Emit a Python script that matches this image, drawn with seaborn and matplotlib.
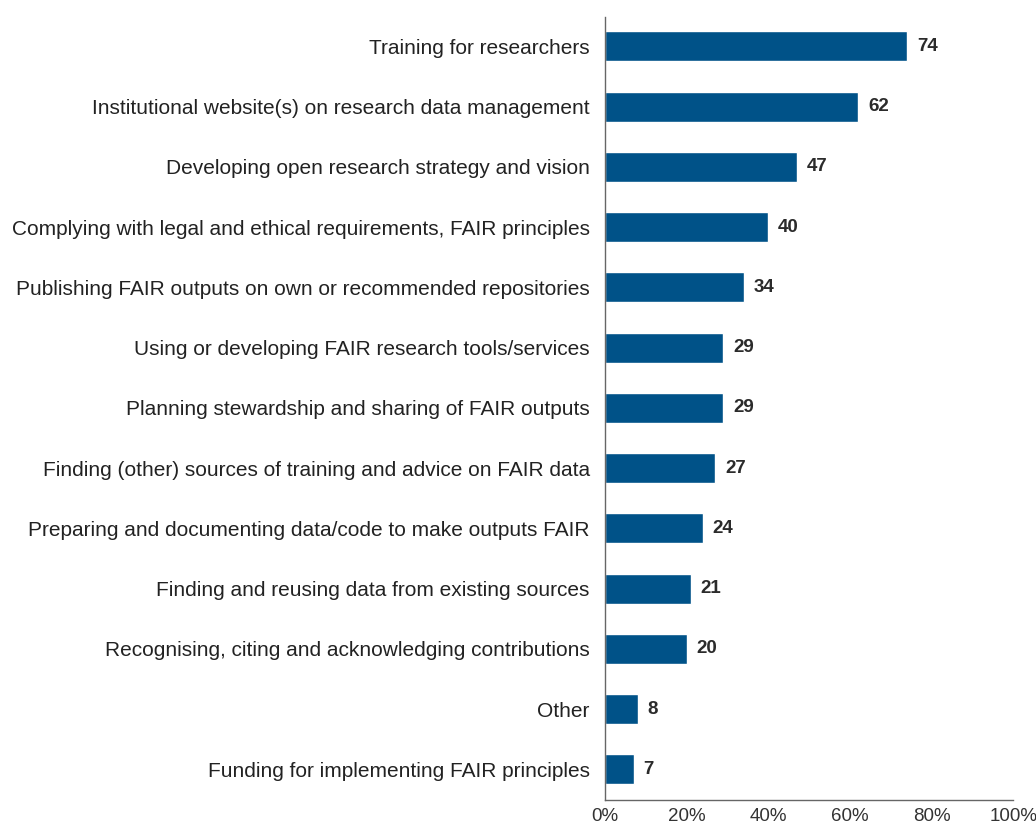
import matplotlib
matplotlib.use("Agg")
import matplotlib.pyplot as plt
import seaborn as sns
import pandas as pd
from matplotlib.ticker import FuncFormatter

categories = [
    "Training for researchers",
    "Institutional website(s) on research data management",
    "Developing open research strategy and vision",
    "Complying with legal and ethical requirements, FAIR principles",
    "Publishing FAIR outputs on own or recommended repositories",
    "Using or developing FAIR research tools/services",
    "Planning stewardship and sharing of FAIR outputs",
    "Finding (other) sources of training and advice on FAIR data",
    "Preparing and documenting data/code to make outputs FAIR",
    "Finding and reusing data from existing sources",
    "Recognising, citing and acknowledging contributions",
    "Other",
    "Funding for implementing FAIR principles",
]
values = [74, 62, 47, 40, 34, 29, 29, 27, 24, 21, 20, 8, 7]
x_ticks = [0, 20, 40, 60, 80, 100]

df = pd.DataFrame({"category": categories, "value": values})

sns.set_theme(style="white")
plt.rcParams["font.family"] = ["Liberation Sans", "DejaVu Sans"]

fig = plt.figure(figsize=(10.36, 8.27), dpi=100)
ax = fig.add_axes([0.584, 0.0326, 0.394, 0.947])

bar_color = "#005288"
sns.barplot(data=df, x="value", y="category", orient="h", color=bar_color,
            width=0.5, saturation=1, ax=ax)

for i, v in enumerate(values):
    ax.text(v + 2.4, i, f"{v}", va="center", ha="left", fontsize=13.5,
            fontweight="bold", color="#2b2b2b")

ax.set_xlim(0, 100)
ax.set_ylim(len(categories) - 0.49, -0.49)
ax.set_xticks(x_ticks)
ax.xaxis.set_major_formatter(FuncFormatter(lambda x, _: f"{int(x)}%"))
ax.set_xlabel("")
ax.set_ylabel("")
ax.tick_params(axis="x", length=0, pad=6, labelsize=13.5, labelcolor="#333333")
ax.tick_params(axis="y", length=0, pad=11, labelsize=15, labelcolor="#222222")

for side in ["top", "right"]:
    ax.spines[side].set_visible(False)
for side in ["left", "bottom"]:
    ax.spines[side].set_color("#666666")
    ax.spines[side].set_linewidth(1.0)

fig.savefig("out.png", dpi=100, facecolor="white")
